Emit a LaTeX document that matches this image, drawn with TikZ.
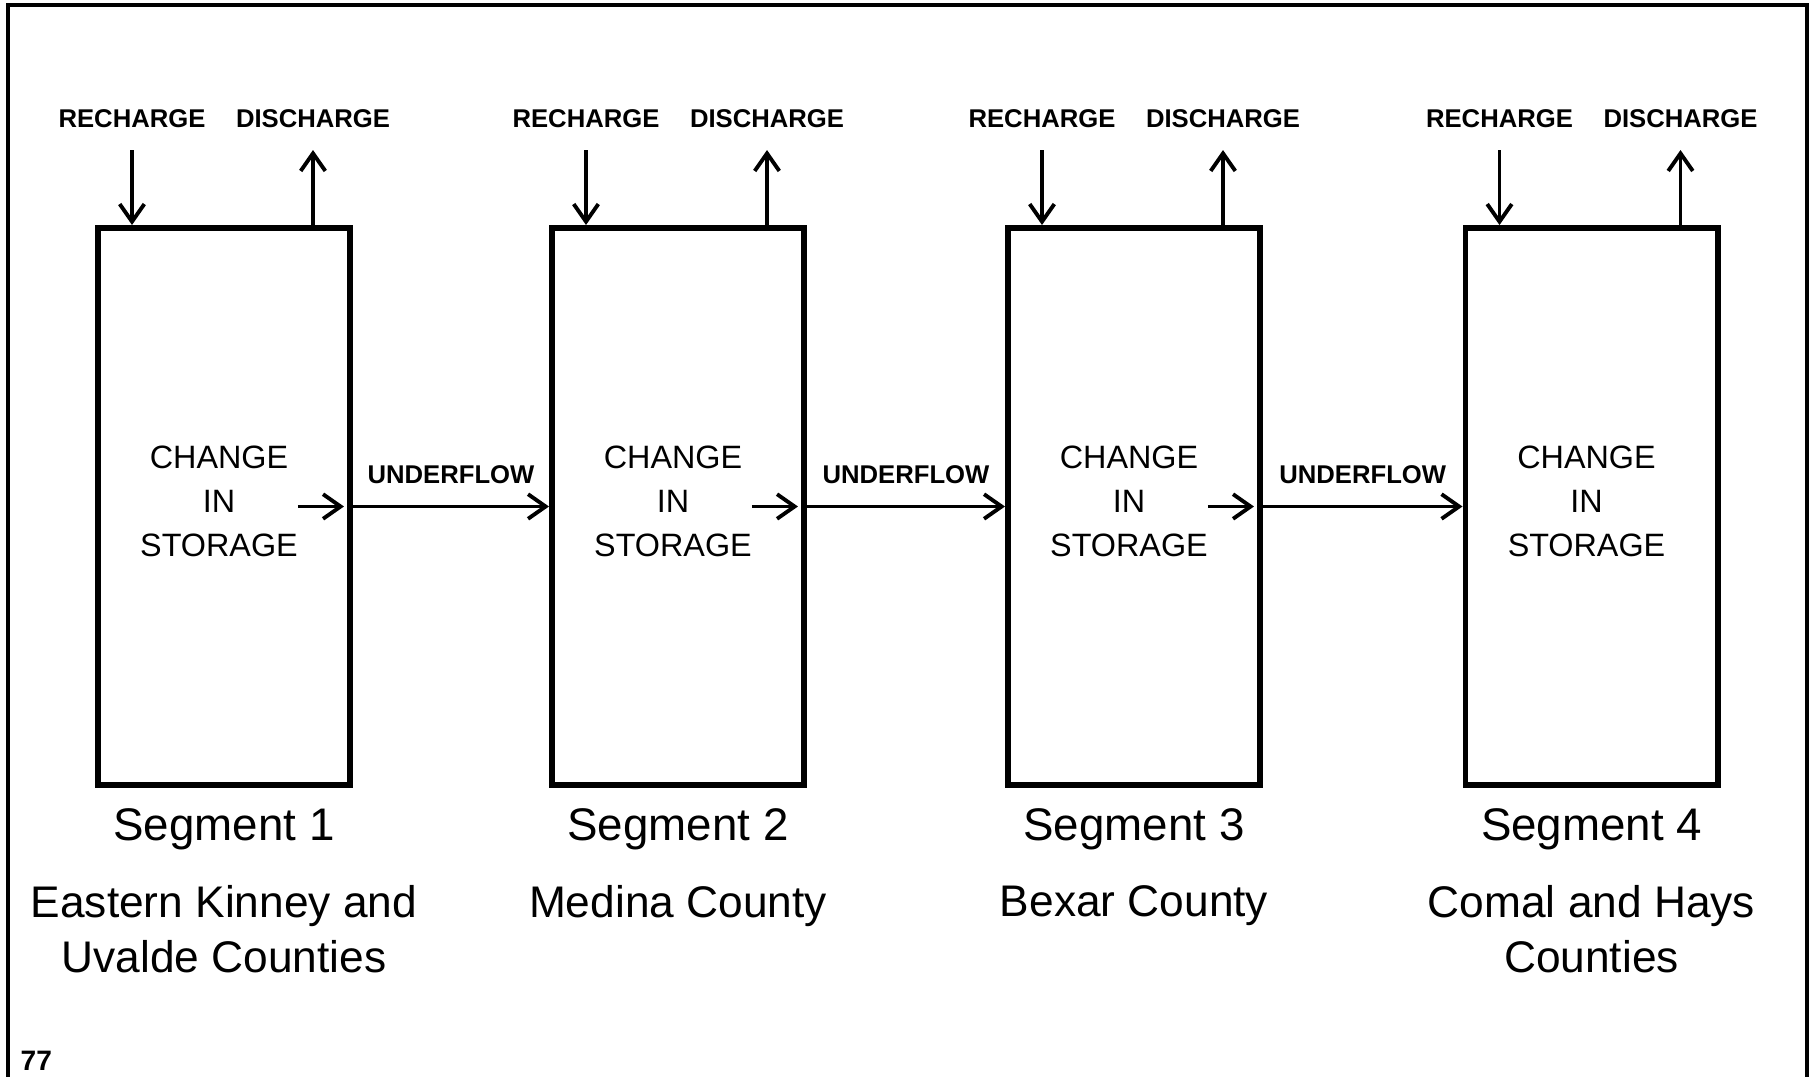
\documentclass[tikz,border=0pt]{standalone}
\usepackage{fontspec}
\setmainfont{Liberation Sans}
\usepackage{tikz}
\usetikzlibrary{arrows.meta, positioning}
\tikzset{
  storage box/.style={
    draw,
    rectangle,
    line width=1.7pt,
    minimum width=2.52cm,
    minimum height=5.57cm,
    inner sep=0pt
  },
  flow arrow/.style={
    -{Straight Barb[length=5pt, width=7pt]},
    line width=1.1pt
  },
  flux label/.style={
    font=\bfseries\fontsize{7.3}{9}\selectfont,
    inner sep=0pt
  },
  storage text/.style={
    align=center,
    font=\fontsize{9.2}{12.6}\selectfont,
    inner sep=0pt
  },
  segment label/.style={
    anchor=base,
    font=\fontsize{13}{15.6}\selectfont,
    inner sep=0pt
  },
  county label/.style={
    anchor=north,
    align=center,
    font=\fontsize{12.6}{15.6}\selectfont,
    inner sep=0pt
  },
  frame line/.style={
    line width=1.2pt
  }
}

\begin{document}
\begin{tikzpicture}
    \useasboundingbox (0,0) rectangle (18.15,-10.77);

    % frame (open at the bottom)
    \draw[frame line] (0.08,-10.77) -- (0.08,-0.05) -- (18.07,-0.05) -- (18.07,-10.77);

    % the four aquifer segments
    \foreach \i/\x/\county in {1/2.24/{Eastern Kinney and\\Uvalde Counties},
                               2/6.78/{Medina County},
                               3/11.34/{Bexar County},
                               4/15.915/{Comal and Hays\\Counties}} {
      \node[storage box] (box\i) at (\x,-5.065) {};
      \node[storage text] (store\i) at ([xshift=-0.05cm, yshift=0.05cm]box\i.center) {CHANGE\\IN\\STORAGE};

      % recharge in, discharge out
      \coordinate (rtop\i) at ([xshift=0.37cm, yshift=0.75cm]box\i.north west);
      \coordinate (rbot\i) at ([xshift=0.37cm]box\i.north west);
      \coordinate (dtop\i) at ([xshift=2.18cm, yshift=0.75cm]box\i.north west);
      \coordinate (dbot\i) at ([xshift=2.18cm]box\i.north west);
      \draw[flow arrow] (rtop\i) -- (rbot\i);
      \draw[flow arrow] (dbot\i) -- (dtop\i);
      \node[flux label, above=0.22cm of rtop\i] (rech\i) {RECHARGE};
      \node[flux label, above=0.22cm of dtop\i] (disch\i) {DISCHARGE};

      % names below the boxes
      \node[segment label] (seg\i) at (\x,-8.40) {Segment \i};
      \node[county label] (cty\i) at (\x,-8.846) {\county};
    }

    % underflow from one segment to the next
    \foreach \i/\j in {1/2, 2/3, 3/4} {
      \coordinate (out\i) at ([xshift=-0.55cm]box\i.east);
      \coordinate (edge\i) at ([xshift=-0.09cm]box\i.east);
      \draw[flow arrow] (out\i) -- (edge\i);
      \draw[flow arrow] (box\i.east) -- (box\j.west)
        node[flux label, midway, above=0.21cm] (uflow\i) {UNDERFLOW};
    }

    \node[anchor=base west, font=\bfseries\fontsize{8}{9}\selectfont, inner sep=0pt] (pagenum) at (0.20,-10.70) {77};

\end{tikzpicture}
\end{document}
